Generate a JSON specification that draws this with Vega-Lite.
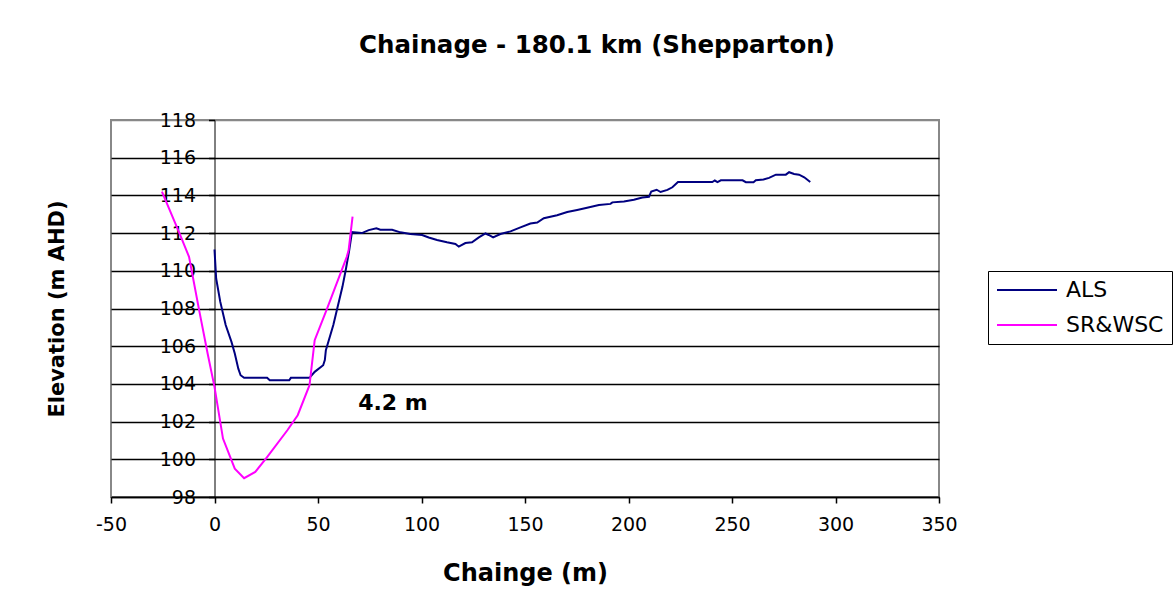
{
  "$schema": "https://vega.github.io/schema/vega-lite/v6.json",
  "width": 828,
  "height": 377,
  "autosize": "none",
  "padding": {"left": 111, "top": 120, "right": 236, "bottom": 108},
  "background": "white",
  "title": {"text": "Chainage - 180.1 km (Shepparton)", "font": "DejaVu Sans", "fontSize": 24.5, "fontWeight": "bold", "color": "black", "anchor": "middle", "dx": 72, "offset": 34, "baseline": "alphabetic"},
  "config": {
    "view": {"stroke": "#888888", "strokeWidth": 2},
    "font": "DejaVu Sans",
    "axisY": {"labelOverlap": false, "labelBound": false},
    "axisX": {"labelOverlap": false}
  },
  "datasets": {
    "profiles": [
      {"series": "ALS", "chainage": 0, "elevation": 111.13},
      {"series": "ALS", "chainage": 0.8, "elevation": 109.59},
      {"series": "ALS", "chainage": 2.8, "elevation": 108.35},
      {"series": "ALS", "chainage": 5.4, "elevation": 107.12},
      {"series": "ALS", "chainage": 8.2, "elevation": 106.23},
      {"series": "ALS", "chainage": 9.8, "elevation": 105.61},
      {"series": "ALS", "chainage": 11.5, "elevation": 104.81},
      {"series": "ALS", "chainage": 12.6, "elevation": 104.46},
      {"series": "ALS", "chainage": 14.3, "elevation": 104.32},
      {"series": "ALS", "chainage": 25.4, "elevation": 104.32},
      {"series": "ALS", "chainage": 26.7, "elevation": 104.19},
      {"series": "ALS", "chainage": 36.1, "elevation": 104.19},
      {"series": "ALS", "chainage": 36.9, "elevation": 104.32},
      {"series": "ALS", "chainage": 45.9, "elevation": 104.32},
      {"series": "ALS", "chainage": 48.4, "elevation": 104.64},
      {"series": "ALS", "chainage": 52.5, "elevation": 104.99},
      {"series": "ALS", "chainage": 53.3, "elevation": 105.26},
      {"series": "ALS", "chainage": 53.8, "elevation": 105.79},
      {"series": "ALS", "chainage": 57.4, "elevation": 107.12},
      {"series": "ALS", "chainage": 61.8, "elevation": 109.15},
      {"series": "ALS", "chainage": 63.4, "elevation": 110.04},
      {"series": "ALS", "chainage": 65.1, "elevation": 111.1},
      {"series": "ALS", "chainage": 66.4, "elevation": 112.05},
      {"series": "ALS", "chainage": 71.2, "elevation": 112.0},
      {"series": "ALS", "chainage": 74.5, "elevation": 112.16},
      {"series": "ALS", "chainage": 78.2, "elevation": 112.26},
      {"series": "ALS", "chainage": 80.1, "elevation": 112.18},
      {"series": "ALS", "chainage": 85.8, "elevation": 112.18},
      {"series": "ALS", "chainage": 89.8, "elevation": 112.04},
      {"series": "ALS", "chainage": 94.6, "elevation": 111.95},
      {"series": "ALS", "chainage": 100.3, "elevation": 111.9},
      {"series": "ALS", "chainage": 103.5, "elevation": 111.77},
      {"series": "ALS", "chainage": 107.5, "elevation": 111.63},
      {"series": "ALS", "chainage": 112.3, "elevation": 111.51},
      {"series": "ALS", "chainage": 116.4, "elevation": 111.42},
      {"series": "ALS", "chainage": 118.0, "elevation": 111.28},
      {"series": "ALS", "chainage": 121.2, "elevation": 111.47},
      {"series": "ALS", "chainage": 124.4, "elevation": 111.51},
      {"series": "ALS", "chainage": 127.7, "elevation": 111.77},
      {"series": "ALS", "chainage": 130.9, "elevation": 111.98},
      {"series": "ALS", "chainage": 132.5, "elevation": 111.9},
      {"series": "ALS", "chainage": 134.6, "elevation": 111.77},
      {"series": "ALS", "chainage": 138.1, "elevation": 111.95},
      {"series": "ALS", "chainage": 143.0, "elevation": 112.09},
      {"series": "ALS", "chainage": 147.8, "elevation": 112.3},
      {"series": "ALS", "chainage": 152.6, "elevation": 112.51},
      {"series": "ALS", "chainage": 155.9, "elevation": 112.56},
      {"series": "ALS", "chainage": 159.1, "elevation": 112.79},
      {"series": "ALS", "chainage": 165.5, "elevation": 112.95},
      {"series": "ALS", "chainage": 170.4, "elevation": 113.12},
      {"series": "ALS", "chainage": 175.2, "elevation": 113.23},
      {"series": "ALS", "chainage": 180.0, "elevation": 113.35},
      {"series": "ALS", "chainage": 185.7, "elevation": 113.49},
      {"series": "ALS", "chainage": 191.3, "elevation": 113.55},
      {"series": "ALS", "chainage": 192.2, "elevation": 113.63},
      {"series": "ALS", "chainage": 197.8, "elevation": 113.68},
      {"series": "ALS", "chainage": 202.6, "elevation": 113.77},
      {"series": "ALS", "chainage": 206.7, "elevation": 113.89},
      {"series": "ALS", "chainage": 209.9, "elevation": 113.93},
      {"series": "ALS", "chainage": 211.0, "elevation": 114.21},
      {"series": "ALS", "chainage": 213.6, "elevation": 114.3},
      {"series": "ALS", "chainage": 215.5, "elevation": 114.18},
      {"series": "ALS", "chainage": 218.8, "elevation": 114.29},
      {"series": "ALS", "chainage": 221.2, "elevation": 114.43},
      {"series": "ALS", "chainage": 223.9, "elevation": 114.71},
      {"series": "ALS", "chainage": 240.5, "elevation": 114.71},
      {"series": "ALS", "chainage": 241.7, "elevation": 114.79},
      {"series": "ALS", "chainage": 243.0, "elevation": 114.71},
      {"series": "ALS", "chainage": 244.6, "elevation": 114.8},
      {"series": "ALS", "chainage": 255.1, "elevation": 114.8},
      {"series": "ALS", "chainage": 256.7, "elevation": 114.7},
      {"series": "ALS", "chainage": 260.4, "elevation": 114.7},
      {"series": "ALS", "chainage": 261.5, "elevation": 114.8},
      {"series": "ALS", "chainage": 265.2, "elevation": 114.84},
      {"series": "ALS", "chainage": 267.9, "elevation": 114.93},
      {"series": "ALS", "chainage": 271.2, "elevation": 115.1},
      {"series": "ALS", "chainage": 276.0, "elevation": 115.1},
      {"series": "ALS", "chainage": 277.6, "elevation": 115.23},
      {"series": "ALS", "chainage": 280.0, "elevation": 115.14},
      {"series": "ALS", "chainage": 282.4, "elevation": 115.1},
      {"series": "ALS", "chainage": 284.9, "elevation": 114.96},
      {"series": "ALS", "chainage": 287.8, "elevation": 114.71},
      {"series": "SR&WSC", "chainage": -25.4, "elevation": 114.2},
      {"series": "SR&WSC", "chainage": -17.2, "elevation": 112.07},
      {"series": "SR&WSC", "chainage": -12.3, "elevation": 110.74},
      {"series": "SR&WSC", "chainage": -7.4, "elevation": 107.9},
      {"series": "SR&WSC", "chainage": -3.3, "elevation": 105.6},
      {"series": "SR&WSC", "chainage": 0, "elevation": 103.84},
      {"series": "SR&WSC", "chainage": 4.1, "elevation": 101.1},
      {"series": "SR&WSC", "chainage": 9.8, "elevation": 99.5},
      {"series": "SR&WSC", "chainage": 14.3, "elevation": 99.0},
      {"series": "SR&WSC", "chainage": 19.7, "elevation": 99.33},
      {"series": "SR&WSC", "chainage": 25.4, "elevation": 100.12},
      {"series": "SR&WSC", "chainage": 35.2, "elevation": 101.54},
      {"series": "SR&WSC", "chainage": 40.2, "elevation": 102.34},
      {"series": "SR&WSC", "chainage": 45.9, "elevation": 103.93},
      {"series": "SR&WSC", "chainage": 48.4, "elevation": 106.32},
      {"series": "SR&WSC", "chainage": 54.1, "elevation": 107.91},
      {"series": "SR&WSC", "chainage": 63.9, "elevation": 110.74},
      {"series": "SR&WSC", "chainage": 64.8, "elevation": 111.1},
      {"series": "SR&WSC", "chainage": 66.7, "elevation": 112.87}
    ],
    "annotations": [
      {"chainage": 86.2, "elevation": 103.0, "label": "4.2 m"}
    ]
  },
  "encoding": {
    "x": {
      "field": "chainage", "type": "quantitative",
      "scale": {"domain": [-50, 350], "nice": false, "zero": false},
      "axis": {
        "values": [-50, 0, 50, 100, 150, 200, 250, 300, 350],
        "labelExpr": "'' + datum.value",
        "title": "Chainge (m)", "grid": false,
        "domainColor": "black", "domainWidth": 1.5,
        "tickColor": "black", "tickSize": 6, "tickWidth": 1.5,
        "labelFont": "DejaVu Sans", "labelFontSize": 19, "labelColor": "black", "labelPadding": 12, "labelFlush": false, "labelOverlap": false,
        "titleFont": "DejaVu Sans", "titleFontSize": 24, "titleFontWeight": "bold", "titleColor": "black", "titlePadding": 27
      }
    },
    "y": {
      "field": "elevation", "type": "quantitative",
      "scale": {"domain": [98, 118], "nice": false, "zero": false},
      "axis": {
        "values": [98, 100, 102, 104, 106, 108, 110, 112, 114, 116, 118],
        "tickCount": 11,
        "labelExpr": "'' + datum.value",
        "offset": -103.5,
        "title": "Elevation (m AHD)",
        "grid": true,
        "gridColor": {"condition": {"test": "datum.value == 118", "value": "#888888"}, "value": "black"},
        "gridWidth": 1.5,
        "domainColor": "black", "domainWidth": 1,
        "tickColor": "black", "tickSize": 6, "tickWidth": 1.5,
        "labelFont": "DejaVu Sans", "labelFontSize": 19, "labelColor": "black", "labelPadding": 13, "labelFlush": false, "labelOverlap": false,
        "titleFont": "DejaVu Sans", "titleFontSize": 21, "titleFontWeight": "bold", "titleColor": "black", "titlePadding": 92
      }
    }
  },
  "layer": [
    {
      "data": {"name": "profiles"},
      "mark": {"type": "line", "strokeWidth": 2, "clip": true},
      "encoding": {
        "color": {
          "field": "series", "type": "nominal",
          "scale": {"domain": ["ALS", "SR&WSC"], "range": ["#000080", "#FF00FF"]},
          "legend": {
            "title": null, "orient": "none", "legendX": 877, "legendY": 151,
            "strokeColor": "black", "fillColor": "white", "padding": 8,
            "symbolType": "M-1,0H5", "symbolSize": 400, "symbolStrokeWidth": 2,
            "labelOffset": 48, "labelFont": "DejaVu Sans", "labelFontSize": 22, "labelColor": "black",
            "rowPadding": 13
          }
        }
      }
    },
    {
      "data": {"name": "annotations"},
      "mark": {"type": "text", "font": "DejaVu Sans", "fontSize": 22, "fontWeight": "bold", "color": "black", "baseline": "middle", "align": "center"},
      "encoding": {
        "text": {"field": "label"}
      }
    }
  ]
}
